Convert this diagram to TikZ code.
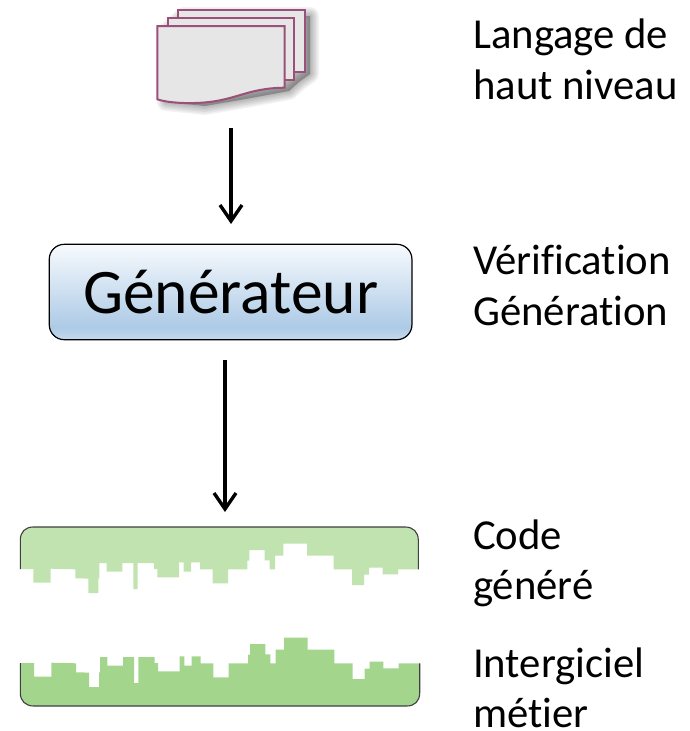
\documentclass[tikz,border=0pt]{standalone}
\usepackage{fontspec}
\setmainfont[Ligatures=NoCommon]{Carlito}
\usetikzlibrary{arrows.meta}
\definecolor{pagefill}{HTML}{E6E6E6}
\definecolor{pageline}{HTML}{9A5078}
\definecolor{codeup}{HTML}{C0E3B0}
\definecolor{codelow}{HTML}{A3D58D}
\definecolor{boxline}{HTML}{3F3F3F}
\definecolor{genA}{HTML}{F7FAFD}
\definecolor{genB}{HTML}{C6DAEE}
\definecolor{genC}{HTML}{AECBE6}
\pgfdeclareverticalshading{genshade}{100bp}{
 color(0bp)=(genB); color(25bp)=(genB);
 color(31bp)=(genC); color(32bp)=(genC);
 color(75bp)=(genA); color(100bp)=(genA)}
\tikzset{
 x=1pt,y=-1pt,
 pagesheet/.style={draw=pageline,line width=2pt,fill=pagefill,line join=miter},
 flowarrow/.style={line width=3.4pt,-{Straight Barb[length=16pt,width=22pt,line width=3.4pt]}},
 genbox/.style={draw=black,line width=1.2pt,rounded corners=15pt,minimum width=362.7pt,minimum height=95.4pt,shading=genshade,inner sep=0pt,font=\fontsize{63.5}{63.5}\selectfont},
 sidelabel/.style={anchor=north west,align=left,inner sep=0pt,font=\fontsize{42.7}{50.6}\selectfont},
 softshadow/.style={draw=black,fill=black,draw opacity=0.05,fill opacity=0.05,line join=round}
}
\newcommand{\skyline}{-- (33.3,569) -- (33.3,582.7) -- (50.7,582.7) -- (50.7,568.7) -- (75.3,569.3) -- (75.3,578.3) -- (88.3,578.6) -- (88.3,593) -- (98.3,593) -- (98.3,578.3) -- (99.3,578.3) -- (99.3,563) -- (106.7,563) -- (106.7,571.7) -- (122.3,571.7) -- (122.3,563) -- (133.3,563) -- (133.3,589) -- (137.7,589) -- (137.7,563) -- (154,563) -- (154,569) -- (157.3,569) -- (157.3,577.3) -- (179,577.3) -- (179,562.3) -- (183.7,562.3) -- (183.7,571.7) -- (191,571.7) -- (191,562.3) -- (200,562.3) -- (200,569.3) -- (212.7,569.3) -- (212.7,583.3) -- (228,583.3) -- (228,569.3) -- (247.3,569.3) -- (247.3,560.7) -- (249.3,560.7) -- (249.3,550) -- (264.7,550) -- (264.7,560.3) -- (269.7,560.3) -- (269.7,569.3) -- (275,569.3) -- (275,555.7) -- (283.3,555.7) -- (283.3,543.7) -- (307,543.7) -- (307,555.7) -- (333.7,555.7) -- (333.7,569.3) -- (352,569.3) -- (352,585) -- (364,585) -- (364,574.7) -- (369,574.7) -- (369,567.7) -- (382.7,567.7) -- (382.7,574.3) -- (398,574.3) -- (398,569.3)}
\begin{document}
\begin{tikzpicture}
\useasboundingbox (0,0) rectangle (690,731);
% page stack shadow
\foreach \w in {18,15,12,9,6,3}{
 \path[softshadow,line width=\w pt] (184,16) -- (310,16) -- (310,74) -- (299,82) -- (289,91) -- (240,100) -- (205,106) -- (166,102) -- (166,32) -- cycle;
}
% pages
\path[pagesheet] (177.7,10) -- (305.3,10) -- (305.3,72) -- (177.7,72) -- cycle;
\path[pagesheet] (168,18) -- (294.3,18) -- (294.3,80) -- (168,80) -- cycle;
\path[pagesheet] (157.3,26) -- (284.7,26) -- (284.7,87.7)
 .. controls (245,88) and (235,102) .. (195,103)
 .. controls (180,103.5) and (165,102) .. (157.3,99.3) -- cycle;
\coordinate (docbottom) at (231,128);
\coordinate (genin) at (231,224);
% generator
\node[genbox] (gen) at (230.6,292) {Générateur};
\draw[flowarrow] (docbottom) -- (genin);
% code blocks
\coordinate (codein) at (225,512);
\coordinate (genout) at (225,360);
\draw[flowarrow] (genout) -- (codein);
\fill[codeup] (20.3,569) \skyline -- (418.3,569.3) -- (418.3,540) .. controls (418.3,532) and (413,527) .. (405.3,527) -- (33.3,527) .. controls (25.3,527) and (20.3,532) .. (20.3,540) -- cycle;
\draw[boxline,line width=1.1pt] (20.3,569) -- (20.3,540) .. controls (20.3,532) and (25.3,527) .. (33.3,527) -- (405.3,527) .. controls (413,527) and (418.3,532) .. (418.3,540) -- (418.3,569.3);
\begin{scope}[shift={(0.7,94)}]
\fill[codelow] (20,569) \skyline -- (419,569.3) -- (419,599) .. controls (419,607) and (414,612) .. (406,612) -- (33,612) .. controls (25,612) and (19.6,607) .. (19.6,599) -- cycle;
\draw[boxline,line width=1.1pt] (19.6,569) -- (19.6,599) .. controls (19.6,607) and (25,612) .. (33,612) -- (406,612) .. controls (414,612) and (419,607) .. (419,599) -- (419,569.3);
\end{scope}
% labels
\node[sidelabel] (l1) at (473,19) {Langage de\\haut niveau};
\node[sidelabel] (l2) at (473,245) {Vérification\\Génération};
\node[sidelabel] (l3) at (473,519.5) {Code\\généré};
\node[sidelabel] (l4) at (473,647.5) {Intergiciel\\métier};
\end{tikzpicture}
\end{document}
